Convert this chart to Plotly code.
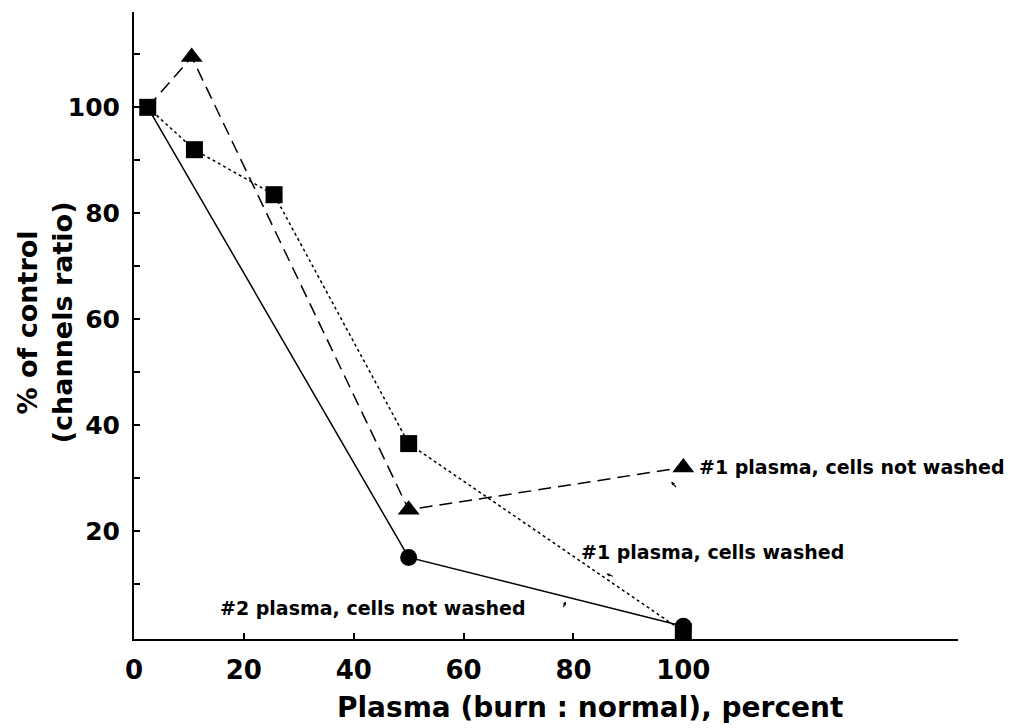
import plotly.graph_objects as go

# Data
x_circle = [2.5, 50, 100]
y_circle = [100, 15, 2]

x_triangle = [2.5, 10.5, 50, 100]
y_triangle = [100, 109.5, 24, 32]

x_square = [2.5, 11, 25.5, 50, 100]
y_square = [100, 92, 83.5, 36.5, 1]

x_tickvals = [0, 20, 40, 60, 80, 100]
x_ticktext = ["0", "20", "40", "60", "80", "100"]
y_tickvals = [10, 20, 30, 40, 50, 60, 70, 80, 90, 100, 110]
y_ticktext = ["", "20", "", "40", "", "60", "", "80", "", "100", ""]

label_tri = "#1 plasma, cells not washed"
label_sq = "#1 plasma, cells washed"
label_circ = "#2 plasma, cells not washed"

FONT = "DejaVu Sans"

fig = go.Figure()

fig.add_trace(go.Scatter(
    x=x_circle, y=y_circle, mode="lines+markers",
    line=dict(color="black", width=1.5, dash="solid"),
    marker=dict(symbol="circle", size=[0, 17, 17], color="black", opacity=1,
                line=dict(width=0)),
    showlegend=False, cliponaxis=False))

fig.add_trace(go.Scatter(
    x=x_triangle, y=y_triangle, mode="lines+markers",
    line=dict(color="black", width=1.5, dash="13px,7px"),
    marker=dict(symbol="triangle-up", size=[0, 19, 19, 19], color="black", opacity=1,
                line=dict(width=0)),
    showlegend=False, cliponaxis=False))

fig.add_trace(go.Scatter(
    x=x_square, y=y_square, mode="lines+markers",
    line=dict(color="black", width=1.5, dash="dot"),
    marker=dict(symbol="square", size=17, color="black", opacity=1,
                line=dict(width=0)),
    showlegend=False, cliponaxis=False))

ann_font = dict(family=FONT, size=19, color="black", weight="bold")

annotations = [
    dict(x=102.5, y=y_triangle[3], xref="x", yref="y", text=label_tri,
         showarrow=False, xanchor="left", yanchor="middle", font=ann_font),
    dict(x=81, y=16, xref="x", yref="y", text=label_sq,
         showarrow=False, xanchor="left", yanchor="middle", font=ann_font),
    dict(x=15.3, y=5.5, xref="x", yref="y", text=label_circ,
         showarrow=False, xanchor="left", yanchor="middle", font=ann_font),
    # small pointer arrows
    dict(x=97.8, y=29.3, xref="x", yref="y", text="", showarrow=True,
         ax=6, ay=7, arrowhead=2, arrowsize=0.6, arrowwidth=1.2, arrowcolor="black"),
    dict(x=86, y=11.9, xref="x", yref="y", text="", showarrow=True,
         ax=8, ay=3, arrowhead=2, arrowsize=0.6, arrowwidth=1.2, arrowcolor="black"),
    dict(x=78.6, y=6.7, xref="x", yref="y", text="", showarrow=True,
         ax=-3, ay=7, arrowhead=2, arrowsize=0.6, arrowwidth=1.2, arrowcolor="black"),
    # axis titles
    dict(x=0.553, y=-0.109, xref="paper", yref="paper",
         text="Plasma (burn : normal), percent", showarrow=False,
         xanchor="center", yanchor="middle",
         font=dict(family=FONT, size=28, color="black", weight="bold")),
    dict(x=-0.108, y=0.505, xref="paper", yref="paper",
         text="% of control<br>(channels ratio)", showarrow=False,
         textangle=-90, xanchor="center", yanchor="middle",
         font=dict(family=FONT, size=27, color="black", weight="bold")),
]

fig.update_layout(
    width=1024, height=728,
    margin=dict(l=134, r=66, t=12, b=89),
    paper_bgcolor="white", plot_bgcolor="white",
    annotations=annotations,
    font=dict(family=FONT, color="black"),
)

fig.update_xaxes(
    range=[0, 150], showgrid=False, zeroline=False,
    showline=True, linecolor="black", linewidth=2,
    ticks="inside", ticklen=6, tickwidth=1.5, tickcolor="black",
    tickvals=x_tickvals, ticktext=x_ticktext,
    tickfont=dict(family=FONT, size=26, color="black", weight="bold"),
    ticklabelstandoff=7,
)
fig.update_yaxes(
    range=[-0.4, 118], showgrid=False, zeroline=False,
    showline=True, linecolor="black", linewidth=2,
    ticks="inside", ticklen=6, tickwidth=1.5, tickcolor="black",
    tickvals=y_tickvals, ticktext=y_ticktext,
    tickfont=dict(family=FONT, size=25, color="black", weight="bold"),
    ticklabelstandoff=7,
)

fig.write_html("out.html")
